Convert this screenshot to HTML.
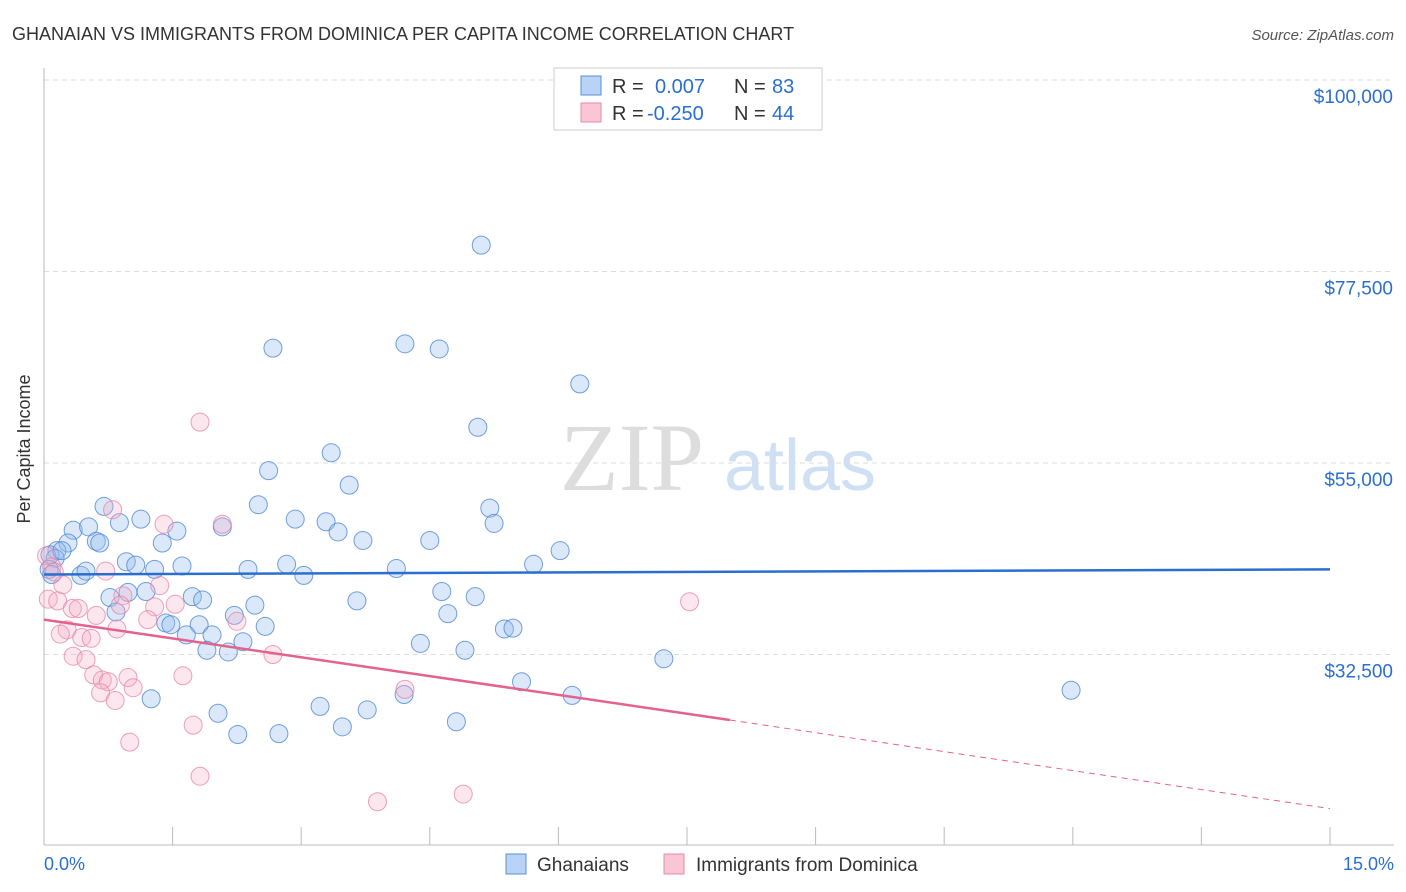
<!DOCTYPE html>
<html><head><meta charset="utf-8"><style>
body{margin:0;background:#fff;font-family:"Liberation Sans",sans-serif}
svg{display:block}
</style></head><body>
<svg id="c" width="1406" height="892" xmlns="http://www.w3.org/2000/svg">
<text x="12" y="40" font-size="18" fill="#333">GHANAIAN VS IMMIGRANTS FROM DOMINICA PER CAPITA INCOME CORRELATION CHART</text>
<text x="1394" y="40" font-size="15" fill="#555" text-anchor="end" font-style="italic">Source: ZipAtlas.com</text>
<text x="36" y="455" font-size="18" fill="#333" text-anchor="middle" transform="rotate(-90 30 455)">Per Capita Income</text>
<g><text x="632" y="490" font-size="96" fill="#ddd" text-anchor="middle" font-family="Liberation Serif">ZIP</text><text x="800" y="490" font-size="72" fill="#cfe0f5" text-anchor="middle">atlas</text></g>
<g id="grid"></g><g id="pts"></g><g id="lines"></g>
<g>
<rect x="554" y="68" width="268" height="62" fill="#fff" stroke="#ccc"/>
<rect x="581" y="76" width="20" height="19" fill="#b8d3f5" stroke="#5b8fd6"/>
<rect x="581" y="103" width="20" height="19" fill="#f9c6d5" stroke="#e88aa8"/>
<text x="612" y="93" font-size="20" fill="#333">R =</text>
<text x="655" y="93" font-size="20" fill="#2a6fd0">0.007</text>
<text x="734" y="93" font-size="20" fill="#333">N =</text>
<text x="772" y="93" font-size="20" fill="#2a6fd0">83</text>
<text x="612" y="120" font-size="20" fill="#333">R =</text>
<text x="647" y="120" font-size="20" fill="#2a6fd0">-0.250</text>
<text x="734" y="120" font-size="20" fill="#333">N =</text>
<text x="772" y="120" font-size="20" fill="#2a6fd0">44</text>
</g>
<g>
<rect x="506" y="854" width="20" height="20" fill="#b8d3f5" stroke="#5b8fd6"/>
<text x="537" y="871" font-size="19" fill="#333">Ghanaians</text>
<rect x="664" y="854" width="20" height="20" fill="#f9c6d5" stroke="#e88aa8"/>
<text x="696" y="871" font-size="19" fill="#333">Immigrants from Dominica</text>
</g>
<text x="44" y="870" font-size="18" fill="#2a6fd0">0.0%</text>
<text x="1394" y="870" font-size="18" fill="#2a6fd0" text-anchor="end">15.0%</text>
</svg>
<script>
const yTicks=[100000,77500,55000,32500];
const yTickLabels=["$100,000","$77,500","$55,000","$32,500"];
const xTicks=[0,1.5,3,4.5,6,7.5,9,10.5,12,13.5,15];
const blueX=[5.1,2.67,4.21,4.61,6.25,5.06,3.35,2.62,3.56,2.5,2.93,3.29,3.43,5.2,5.25,6.02,0.7,0.88,1.13,0.34,0.52,1.55,2.08,1.38,0.61,0.65,0.28,0.15,0.07,0.13,0.21,3.72,4.5,0.96,1.07,1.29,1.61,2.38,2.83,3.03,4.11,5.71,0.43,0.49,0.06,0.09,4.64,5.03,1.19,0.98,0.77,1.73,1.85,3.65,4.71,2.46,2.22,0.84,1.42,1.48,1.81,2.58,1.66,1.96,5.37,5.47,4.39,4.91,1.9,2.15,2.32,7.23,1.25,5.57,6.16,4.2,3.22,3.77,4.81,2.03,11.98,3.48,2.26,2.74];
const blueY=[80600,68500,69000,68400,64300,59200,56200,54100,52400,50100,48400,48100,46900,49700,47900,44700,49900,48000,48400,47100,47500,47000,47500,45600,45800,45600,45600,44700,44200,43800,44700,45900,45900,43400,43000,42500,42900,42500,43100,41800,42600,43100,41800,42300,42500,41900,39900,39300,39900,39800,39200,39300,38900,38800,37300,38300,37100,37500,36200,36000,36000,35800,34800,34800,35500,35600,33800,33000,33000,32800,34000,32000,27300,29300,27700,27800,26400,26000,24600,25600,28300,24000,23100,23200];
const pinkX=[1.82,0.8,1.4,2.08,0.03,0.09,0.22,0.72,1.35,0.05,0.16,0.92,0.89,0.33,0.4,1.29,1.53,0.61,1.21,2.25,7.53,0.27,0.19,0.85,0.44,0.55,0.34,0.49,2.67,0.58,0.98,1.62,0.68,0.75,1.04,0.66,0.83,4.21,1.74,1.0,1.82,3.89,4.89,0.12];
const pinkY=[59800,49500,47800,47800,44100,42800,40700,42300,40600,39000,38800,39400,38300,37900,37900,38100,38400,37100,36600,36400,38700,35400,34900,35500,34500,34400,32300,31900,32500,30100,29800,30000,29500,29300,28600,28000,27100,28400,24200,22200,18200,15200,16100,42200];
const blueTrend=[41900,42500];
const pinkTrend=[36600,24800,14400];
const NS="http://www.w3.org/2000/svg";
const L=44,R=1330,T=80,B=845;
const xs=v=>L+v/15*(R-L);
const ys=v=>T+(100000-v)/22500*191.5;
function mk(t,a,p){const e=document.createElementNS(NS,t);for(const k in a)e.setAttribute(k,a[k]);p.appendChild(e);return e;}
const g=document.getElementById('grid');
yTicks.forEach((v,i)=>{
 const l=mk('line',{x1:L,x2:1394,y1:ys(v),y2:ys(v),stroke:'#ddd','stroke-dasharray':'5,4'},g);
 
 
 const t=mk('text',{x:1393,y:ys(v)+23,'font-size':19,fill:'#2a6fd0','text-anchor':'end'},g);
 t.textContent=yTickLabels[i];
 
 
});
const ax=mk('line',{x1:L,x2:1394,y1:B,y2:B,stroke:'#bbb'},g);


const ay=mk('line',{x1:L,x2:L,y1:68,y2:B,stroke:'#bbb'},g);


xTicks.forEach(v=>{const t=mk('line',{x1:xs(v),x2:xs(v),y1:827,y2:B,stroke:'#bbb'},g);
 
 });
const p=document.getElementById('pts');
blueX.forEach((x,i)=>{const c=mk('circle',{cx:xs(x),cy:ys(blueY[i]),r:9,fill:'rgba(150,188,238,0.35)',stroke:'rgba(70,130,210,0.75)','stroke-width':1},p);
 
 });
pinkX.forEach((x,i)=>{const c=mk('circle',{cx:xs(x),cy:ys(pinkY[i]),r:9,fill:'rgba(245,175,198,0.3)',stroke:'rgba(230,130,165,0.75)','stroke-width':1},p);
 
 });
const ln=document.getElementById('lines');
const bl=mk('line',{x1:xs(0),x2:xs(15),y1:ys(blueTrend[0]),y2:ys(blueTrend[1]),stroke:'#2a6fd0','stroke-width':2.5},ln);


const pl=mk('line',{x1:xs(0),x2:xs(8),y1:ys(pinkTrend[0]),y2:ys(pinkTrend[1]),stroke:'#e4628e','stroke-width':2.5},ln);


const pd=mk('line',{x1:xs(8),x2:xs(15),y1:ys(pinkTrend[1]),y2:ys(pinkTrend[2]),stroke:'#e4628e','stroke-width':1,'stroke-dasharray':'6,5'},ln);


</script>
</body></html>
